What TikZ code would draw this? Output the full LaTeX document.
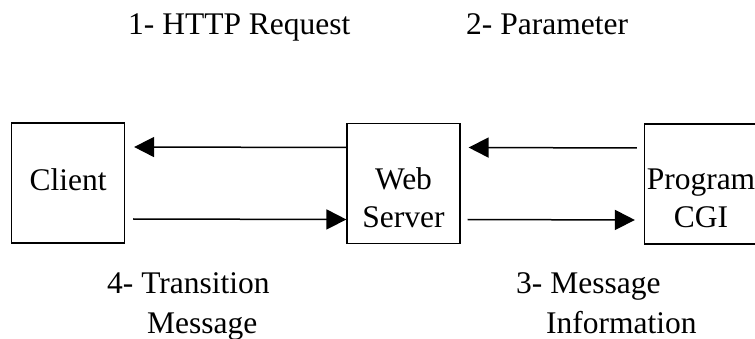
\documentclass[tikz,border=0pt]{standalone}
\usepackage{fontspec}
\setmainfont{Liberation Serif}
\usetikzlibrary{arrows.meta}

\tikzset{
  box/.style={draw=black, line width=1.2pt, minimum width=113pt, minimum height=120pt, inner sep=0pt},
  txt/.style={inner sep=0pt, anchor=base, font=\fontsize{31.5}{38}\selectfont},
  steplabel/.style={inner sep=0pt, anchor=base west, font=\fontsize{31.5}{38}\selectfont},
  arr/.style={line width=1.5pt, -{Triangle[length=20pt,width=20pt]}}
}

\begin{document}
\begin{tikzpicture}[x=1pt, y=-1pt]
\useasboundingbox (0,0) rectangle (755,339);

% the three parties
\node[box] (client) at (68,183) {};
\node[box] (web) at (403.5,183.5) {};
\node[box] (cgi) at (701,184) {};

% box texts
\node[txt] (clientT) at (68,191) {Client};
\node[txt] (webT1) at (403.5,190) {Web};
\node[txt] (webT2) at (403.5,228) {Server};
\node[txt] (cgiT1) at (701,190) {Program};
\node[txt] (cgiT2) at (701,228) {CGI};

% step captions
\node[steplabel] (c1) at (128,35) {1- HTTP Request};
\node[steplabel] (c2) at (466,35) {2- Parameter};
\node[steplabel] (c4a) at (107,293) {4- Transition};
\node[steplabel] (c4b) at (147,333) {Message};
\node[steplabel] (c3a) at (516,293) {3- Message};
\node[steplabel] (c3b) at (546,333) {Information};

% message flow
\draw[arr] ([yshift=36pt]web.west) -- ([yshift=36pt, xshift=9pt]client.east);
\draw[arr] ([yshift=-36pt, xshift=8pt]client.east) -- ([yshift=-36pt]web.west);
\draw[arr] ([yshift=36pt, xshift=-7pt]cgi.west) -- ([yshift=36pt, xshift=8pt]web.east);
\draw[arr] ([yshift=-36pt, xshift=7pt]web.east) -- ([yshift=-36pt, xshift=-9pt]cgi.west);
\end{tikzpicture}
\end{document}
